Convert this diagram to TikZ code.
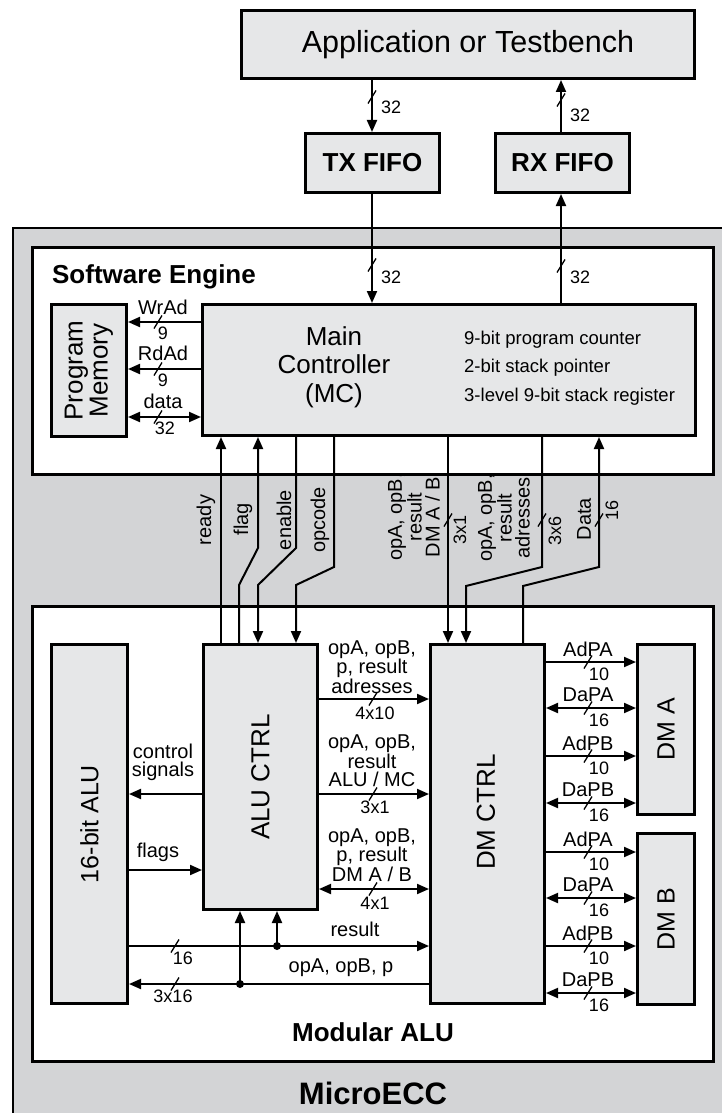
\documentclass[tikz,border=0pt]{standalone}
\usepackage{fontspec}
\setmainfont{Liberation Sans}
\usetikzlibrary{arrows.meta,calc}
\definecolor{outergray}{HTML}{D3D4D6}
\definecolor{blkgray}{HTML}{E6E7E8}
\begin{document}
\begin{tikzpicture}[x=1pt,y=-1pt,
  >={Triangle[length=12pt,width=10pt]},
  conn/.style={line width=2pt},
  blk/.style={draw,line width=3pt,fill=blkgray,inner sep=0pt,anchor=north west},
  cont/.style={draw,line width=3pt,fill=white,inner sep=0pt,anchor=north west},
  lbl/.style={font=\fontsize{20}{18}\selectfont,inner sep=0pt,align=center},
  num/.style={font=\fontsize{18}{18}\selectfont,inner sep=0pt},
  bigt/.style={font=\fontsize{25}{25}\selectfont,inner sep=0pt,align=center},
  boldt/.style={font=\fontsize{26}{26}\selectfont\bfseries,inner sep=0pt},
  jdot/.style={circle,fill,inner sep=0pt,minimum size=8pt},
  sl/.pic={\draw[line width=1.3pt] (-4,6.5) -- (4,-6.5);}
]
\clip (0,0) rectangle (722,1113);
% outer
\node[draw,line width=2pt,fill=outergray,anchor=north west,inner sep=0pt,minimum width=760pt,minimum height=950pt] (ecc) at (12,227) {};
\node[boldt,font=\fontsize{31}{31}\selectfont\bfseries] (ecct) at (373,1093) {MicroECC};
% top
\node[blk,minimum width=453pt,minimum height=68pt,font=\fontsize{30.5}{30}\selectfont] (app) at (240,9) {Application or Testbench};
\node[blk,minimum width=134pt,minimum height=59pt,boldt] (txf) at (304,132) {TX FIFO};
\node[blk,minimum width=134pt,minimum height=59pt,boldt] (rxf) at (494,132) {RX FIFO};
% software engine
\node[cont,minimum width=681pt,minimum height=227pt] (se) at (31,246) {};
\node[boldt] (set) at (154,277) {Software Engine};
\node[blk,minimum width=75pt,minimum height=132pt] (pm) at (50,303) {};
\node[bigt,rotate=90,font=\fontsize{26}{25}\selectfont] (pmt) at (pm.center) {Program\\Memory};
\node[blk,minimum width=493pt,minimum height=131pt] (mc) at (201,303) {};
\node[align=center,inner sep=0pt,font=\fontsize{26}{28.5}\selectfont] (mct) at (334,367) {Main\\Controller\\(MC)};
\node[align=left,inner sep=0pt,anchor=west,font=\fontsize{18.5}{28.5}\selectfont] (mcr) at (464,368) {9-bit program counter\\2-bit stack pointer\\3-level 9-bit stack register};
% modular alu
\node[cont,minimum width=681pt,minimum height=455pt] (malu) at (31,605) {};
\node[boldt] (malut) at (373,1032) {Modular ALU};
\node[blk,minimum width=76pt,minimum height=359pt] (alu) at (50,643) {};
\node[bigt,rotate=90] (alut) at (alu.center) {16-bit ALU};
\node[blk,minimum width=114pt,minimum height=265pt] (aluc) at (202,643) {};
\node[bigt,rotate=90,font=\fontsize{26}{26}\selectfont] (aluct) at (aluc.center) {ALU CTRL};
\node[blk,minimum width=114pt,minimum height=359pt] (dmc) at (429,643) {};
\node[bigt,rotate=90,font=\fontsize{26}{26}\selectfont] (dmct) at (486,812) {DM CTRL};
\node[blk,minimum width=57pt,minimum height=170pt] (dma) at (636,643) {};
\node[bigt,rotate=90] (dmat) at (dma.center) {DM A};
\node[blk,minimum width=57pt,minimum height=171pt] (dmb) at (636,832) {};
\node[bigt,rotate=90] (dmbt) at (dmb.center) {DM B};
% coordinates
\coordinate (xtx) at (372,0);
\coordinate (xrx) at (561,0);
% app <-> fifos
\draw[conn,->] (app.south -| xtx) -- (txf.north -| xtx);
\pic at (372,97) {sl};
\node[num,anchor=west] at (381,107) {32};
\draw[conn,->] (rxf.north -| xrx) -- (app.south -| xrx);
\pic at (561,100) {sl};
\node[num,anchor=west] at (570,115) {32};
% fifos <-> mc
\draw[conn,->] (txf.south -| xtx) -- (mc.north -| xtx);
\pic at (372,265) {sl};
\node[num,anchor=west] at (381,277) {32};
\draw[conn,->] (mc.north -| xrx) -- (rxf.south -| xrx);
\pic at (561,266) {sl};
\node[num,anchor=west] at (570,277) {32};
% program memory
\coordinate (ywr) at (0,322);
\coordinate (yrd) at (0,369);
\coordinate (yda) at (0,417);
\draw[conn,->] (mc.west |- ywr) -- (pm.east |- ywr);
\pic at (158,322) {sl};
\node[lbl] at (163,307) {WrAd};
\node[num] at (163,333) {9};
\draw[conn,->] (mc.west |- yrd) -- (pm.east |- yrd);
\pic at (158,369) {sl};
\node[lbl] at (163,353) {RdAd};
\node[num] at (163,380) {9};
\draw[conn,<->] (mc.west |- yda) -- (pm.east |- yda);
\pic at (158,417) {sl};
\node[lbl] at (163,401) {data};
\node[num] at (165,428) {32};
% MC <-> ALU CTRL / DM CTRL
\coordinate (xa) at (221,0);
\coordinate (fB) at (239,585); \coordinate (fT) at (258,548);
\coordinate (eB) at (258,585); \coordinate (eT) at (296,548);
\coordinate (oB) at (296,585); \coordinate (oT) at (334,567);
\coordinate (xd) at (448,0);
\coordinate (aB) at (466,586); \coordinate (aT) at (542,567);
\coordinate (dB) at (523,586); \coordinate (dT) at (599,567);
\draw[conn,->] (aluc.north -| xa) -- (mc.south -| xa);
\draw[conn,->] (aluc.north -| fB) -- (fB) -- (fT) -- (mc.south -| fT);
\draw[conn,->] (mc.south -| eT) -- (eT) -- (eB) -- (aluc.north -| eB);
\draw[conn,->] (mc.south -| oT) -- (oT) -- (oB) -- (aluc.north -| oB);
\draw[conn,->] (mc.south -| xd) -- (dmc.north -| xd);
\draw[conn,->] (mc.south -| aT) -- (aT) -- (aB) -- (dmc.north -| aB);
\draw[conn,->] (dmc.north -| dB) -- (dB) -- (dT) -- (mc.south -| dT);
\pic at (448,520) {sl};
\pic at (542,520) {sl};
\pic at (599,520) {sl};
\node[num,rotate=90] at (460,530) {3x1};
\node[num,rotate=90] at (555,531) {3x6};
\node[num,rotate=90] at (612,510) {16};
\node[lbl,rotate=90] at (206,520) {ready};
\node[lbl,rotate=90] at (243,519) {flag};
\node[lbl,rotate=90] at (284,520) {enable};
\node[lbl,rotate=90] at (320,520) {opcode};
\node[lbl,rotate=90] at (414,517) {opA, opB,\\result\\DM A / B};
\node[lbl,rotate=90] at (504,518) {opA, opB,\\result\\adresses};
\node[lbl,rotate=90] at (584,519) {Data};
% ALU CTRL -> DM CTRL
\coordinate (y1) at (0,699);
\coordinate (y2) at (0,794);
\coordinate (y3) at (0,889);
\draw[conn,->] (aluc.east |- y1) -- (dmc.west |- y1);
\pic at (373,699) {sl};
\node[lbl] at (372,667) {opA, opB,\\p, result\\adresses};
\node[num] at (375,713) {4x10};
\draw[conn,->] (aluc.east |- y2) -- (dmc.west |- y2);
\pic at (373,794) {sl};
\node[lbl] at (372,761) {opA, opB,\\result\\ALU / MC};
\node[num] at (375,807) {3x1};
\draw[conn,<->] (aluc.east |- y3) -- (dmc.west |- y3);
\pic at (373,889) {sl};
\node[lbl] at (372,855) {opA, opB,\\p, result\\DM A / B};
\node[num] at (375,903) {4x1};
% ALU <-> ALU CTRL
\draw[conn,->] (aluc.west |- y2) -- (alu.east |- y2);
\node[lbl] at (163,762) {control\\signals};
\coordinate (yf) at (0,870);
\draw[conn,->] (alu.east |- yf) -- (aluc.west |- yf);
\node[lbl] at (158,852) {flags};
% result / operands
\coordinate (yr) at (0,946);
\coordinate (yo) at (0,984);
\draw[conn,->] (alu.east |- yr) -- (dmc.west |- yr);
\node[jdot] (r1) at (277,946) {};
\draw[conn,->] (r1.center) -- (aluc.south -| r1);
\pic at (175,946) {sl};
\node[num] at (183,958) {16};
\node[lbl] at (355,929) {result};
\draw[conn,->] (dmc.west |- yo) -- (alu.east |- yo);
\node[jdot] (o1) at (240,984) {};
\draw[conn,->] (o1.center) -- (aluc.south -| o1);
\pic at (175,984) {sl};
\node[num] at (173,996) {3x16};
\node[lbl] at (341,968) {opA, opB, p};
% DM A / DM B buses
\foreach \yy/\nm/\n/\st [count=\i] in {662/AdPA/10/->,708/DaPA/16/<->,756/AdPB/10/->,803/DaPB/16/<->} {
  \coordinate (ya\i) at (0,\yy);
  \draw[conn,\st] (dmc.east |- ya\i) -- (dma.west |- ya\i);
  \pic at (588,\yy) {sl};
  \node[lbl] at (588,\yy-13) {\nm};
  \node[num] at (599,\yy+12) {\n};
}
\foreach \yy/\nm/\n/\st [count=\i] in {852/AdPA/10/->,898/DaPA/16/<->,946/AdPB/10/->,993/DaPB/16/<->} {
  \coordinate (yb\i) at (0,\yy);
  \draw[conn,\st] (dmc.east |- yb\i) -- (dmb.west |- yb\i);
  \pic at (588,\yy) {sl};
  \node[lbl] at (588,\yy-13) {\nm};
  \node[num] at (599,\yy+12) {\n};
}
\end{tikzpicture}
\end{document}
